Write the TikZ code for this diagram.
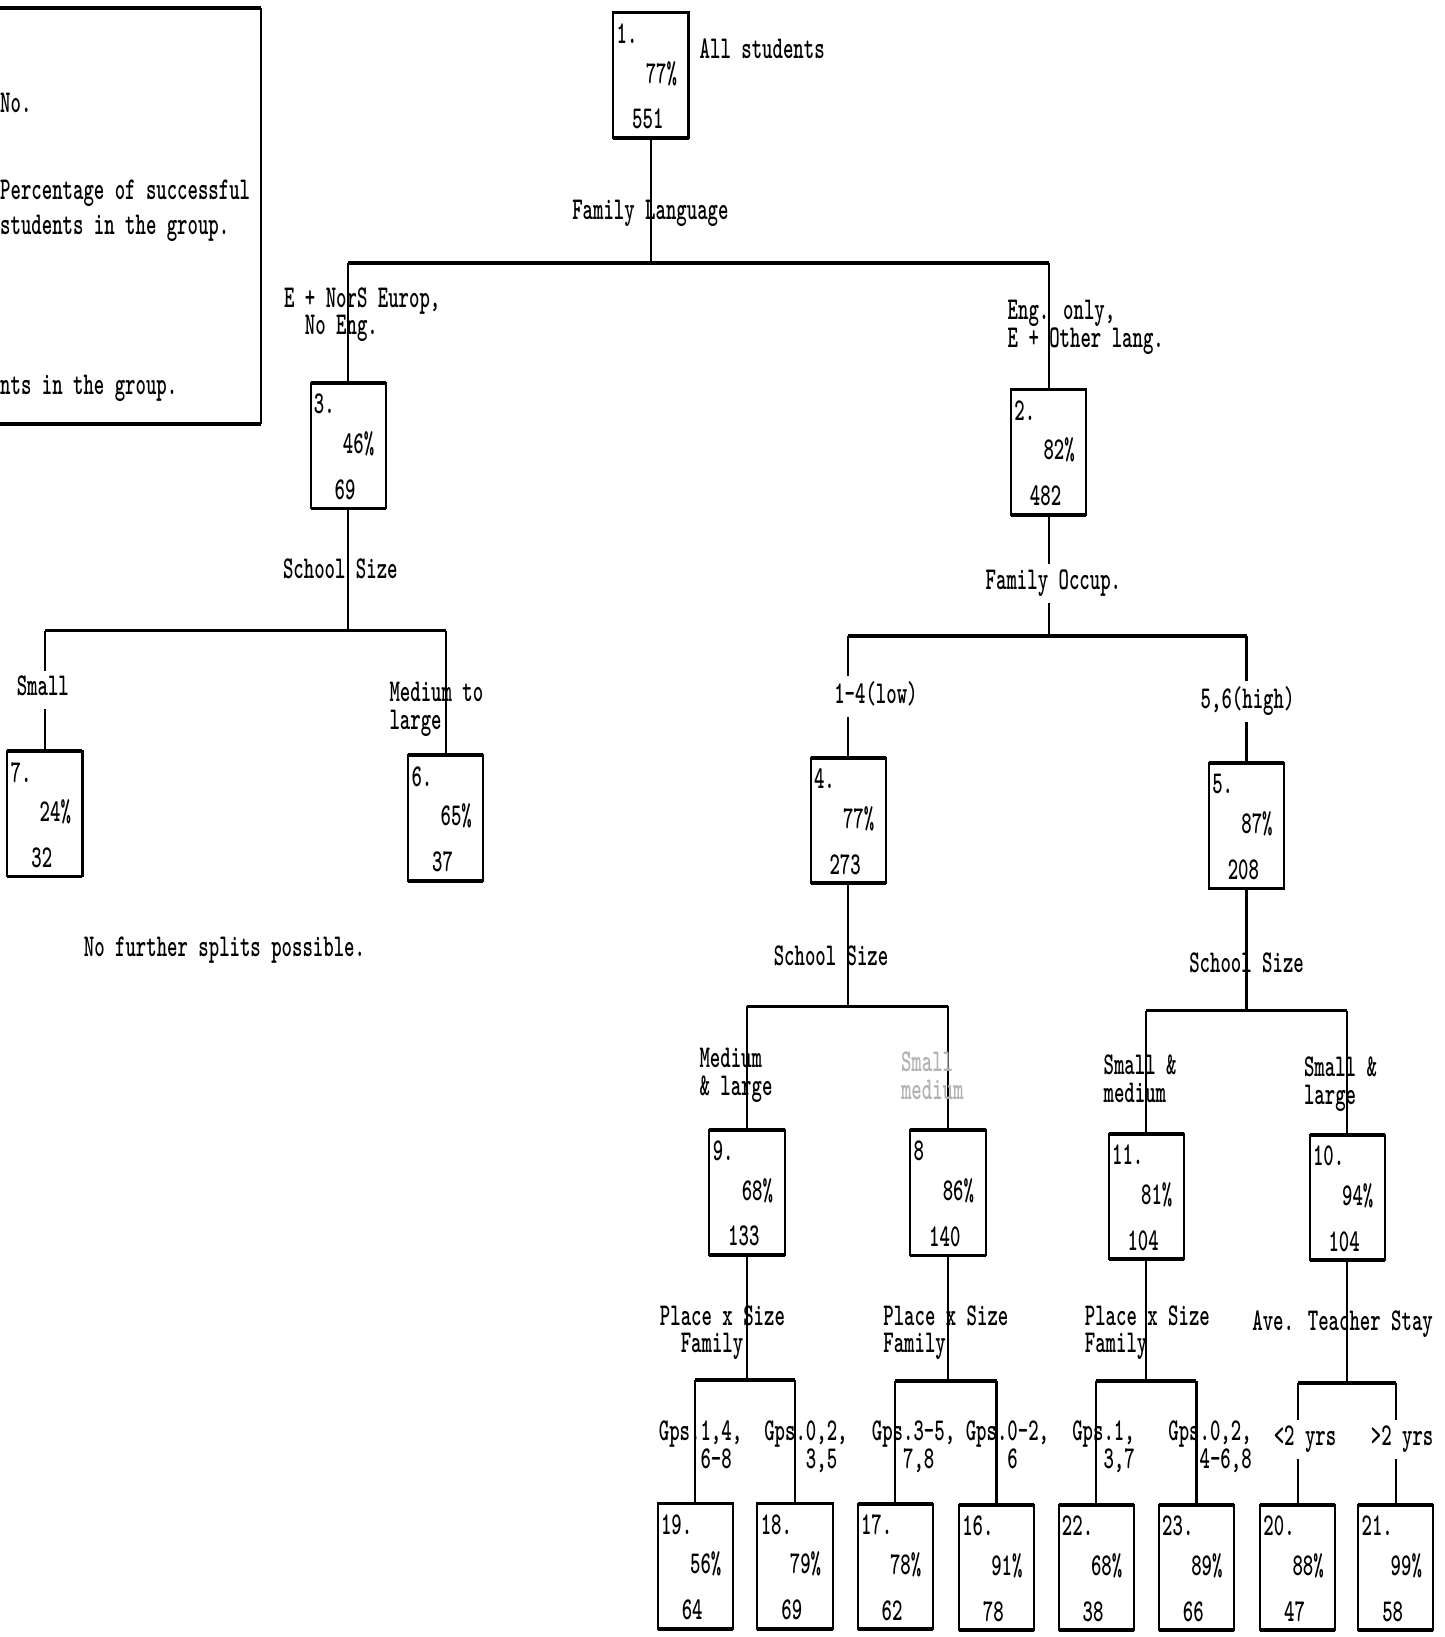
\documentclass[tikz,border=0pt]{standalone}
\usepackage{graphicx}
\usepackage{tikz}

\newcommand{\typefont}{\fontsize{19}{16}\selectfont\ttfamily\bfseries
  \setbox\strutbox\hbox{\vrule height 11pt depth 5pt width 0pt}}
\newcommand{\tall}[1]{\scalebox{1}[1.6]{\begin{tabular}{@{}l@{}}#1\end{tabular}}}

\tikzset{
  box/.style={draw=black, line width=2pt, minimum width=72pt, minimum height=120pt, inner sep=0pt, outer sep=0pt},
  lbl/.style={font=\typefont, inner sep=0pt, yshift=-4pt},
  gap/.style={fill=white, inner xsep=2pt, inner ysep=5pt},
  link/.style={draw=black, line width=2.2pt},
  bar/.style={draw=black, line width=3.6pt},
}

% group box: name, x, y, number, percentage, count
\newcommand{\groupbox}[6]{%
  \node[box] (#1) at (#2,#3) {};
  \path[bar] (#1.north west) -- (#1.north east);
  \path[bar] (#1.south west) -- (#1.south east);
  \node[lbl,anchor=west] (#1no) at ([shift={(3,20)}]#1.north west) {\tall{#4}};
  \node[lbl] (#1pc) at ([shift={(46,57)}]#1.north west) {\tall{#5}};
  \node[lbl] (#1n) at ([shift={(33,102)}]#1.north west) {\tall{#6}};
}

\begin{document}
\begin{tikzpicture}[x=1pt,y=-1pt]
\useasboundingbox (0,0) rectangle (1384,1568);
% legend:
\path[bar] (-5,8) -- (250,8);
\path[bar] (-5,406) -- (250,406);
\path[link] (250,8) -- (250,406);
\node[lbl,anchor=west] (keyno) at (0,98) {\tall{No.}};
\node[lbl,anchor=west] (keypc) at (0,182) {\tall{Percentage of successful}};
\node[lbl,anchor=west] (keygr) at (0,215) {\tall{students in the group.}};
\node[lbl,anchor=west] (keyn) at (0,369) {\tall{nts in the group.}};
% groups:
\groupbox{b1}{623.5}{72}{1.}{77\%}{551}
\groupbox{b3}{333.5}{427}{3.}{46\%}{69}
\groupbox{b2}{1004.5}{433}{2.}{82\%}{482}
\groupbox{b7}{43}{779.5}{7.}{24\%}{32}
\groupbox{b6}{427}{783.5}{6.}{65\%}{37}
\groupbox{b4}{812.5}{786}{4.}{77\%}{273}
\groupbox{b5}{1194}{791}{5.}{87\%}{208}
\groupbox{b9}{715.5}{1142}{9.}{68\%}{133}
\groupbox{b8}{908}{1142.5}{8}{86\%}{140}
\groupbox{b11}{1098}{1146}{11.}{81\%}{104}
\groupbox{b10}{1290.5}{1147}{10.}{94\%}{104}
\groupbox{b19}{666}{1500}{19.}{56\%}{64}
\groupbox{b18}{761.5}{1500}{18.}{79\%}{69}
\groupbox{b17}{857.5}{1500.5}{17.}{78\%}{62}
\groupbox{b16}{954.5}{1501.5}{16.}{91\%}{78}
\groupbox{b22}{1050}{1501.5}{22.}{68\%}{38}
\groupbox{b23}{1146}{1501.5}{23.}{89\%}{66}
\groupbox{b20}{1243}{1501.5}{20.}{88\%}{47}
\groupbox{b21}{1337}{1501.5}{21.}{99\%}{58}
% splits:
\coordinate (j1) at (623.5,252);
\coordinate (j3) at (333.5,604);
\coordinate (j2) at (1004.5,609);
\coordinate (j4) at (812.5,964);
\coordinate (j5) at (1194,968);
\coordinate (j9) at (715.5,1322);
\coordinate (j8) at (908,1323);
\coordinate (j11) at (1098,1323);
\coordinate (j10) at (1290.5,1325);
\path[link] (b1.south) -- (j1);
\path[bar] (b3 |- j1) -- (b2 |- j1);
\path[link] (b3 |- j1) -- (b3.north);
\path[link] (b2 |- j1) -- (b2.north);
\path[link] (b3.south) -- (j3);
\path[bar] (b7 |- j3) -- (b6 |- j3);
\path[link] (b7 |- j3) -- (b7.north);
\path[link] (b6 |- j3) -- (b6.north);
\path[link] (b2.south) -- (j2);
\path[bar] (b4 |- j2) -- (b5 |- j2);
\path[link] (b4 |- j2) -- (b4.north);
\path[link] (b5 |- j2) -- (b5.north);
\path[link] (b4.south) -- (j4);
\path[bar] (b9 |- j4) -- (b8 |- j4);
\path[link] (b9 |- j4) -- (b9.north);
\path[link] (b8 |- j4) -- (b8.north);
\path[link] (b5.south) -- (j5);
\path[bar] (b11 |- j5) -- (b10 |- j5);
\path[link] (b11 |- j5) -- (b11.north);
\path[link] (b10 |- j5) -- (b10.north);
\path[link] (b9.south) -- (j9);
\path[bar] (b19 |- j9) -- (b18 |- j9);
\path[link] (b19 |- j9) -- (b19.north);
\path[link] (b18 |- j9) -- (b18.north);
\path[link] (b8.south) -- (j8);
\path[bar] (b17 |- j8) -- (b16 |- j8);
\path[link] (b17 |- j8) -- (b17.north);
\path[link] (b16 |- j8) -- (b16.north);
\path[link] (b11.south) -- (j11);
\path[bar] (b22 |- j11) -- (b23 |- j11);
\path[link] (b22 |- j11) -- (b22.north);
\path[link] (b23 |- j11) -- (b23.north);
\path[link] (b10.south) -- (j10);
\path[bar] (b20 |- j10) -- (b21 |- j10);
\path[link] (b20 |- j10) -- (b20.north);
\path[link] (b21 |- j10) -- (b21.north);
% labels:
\node[lbl,anchor=west] (all) at (670,47) {\tall{All students}};
\node[lbl] (famlang) at (623,201) {\tall{Family Language}};
\node[lbl] (eur) at (347,298) {\tall{E + NorS Europ,\\\phantom{xx}No Eng.}};
\node[lbl] (eng) at (1040,310) {\tall{Eng. only,\\E + Other lang.}};
\node[lbl] (size3) at (326,545) {\tall{School Size}};
\node[lbl,gap] (small7) at (41,657) {\tall{Small}};
\node[lbl] (med6) at (418,676) {\tall{Medium to\\large}};
\node[lbl] (nomore) at (215,907) {\tall{No further splits possible.}};
\node[lbl,gap] (occup) at (1009,555) {\tall{Family Occup.}};
\node[lbl,gap] (low) at (839,663) {\tall{1-4(low)}};
\node[lbl,gap] (high) at (1195,668) {\tall{5,6(high)}};
\node[lbl] (size4) at (796,915) {\tall{School Size}};
\node[lbl] (size5) at (1194,922) {\tall{School Size}};
\node[lbl] (med9) at (705,1027) {\tall{Medium\\\& large}};
\node[lbl,text=black!30] (sm8) at (893,1030) {\tall{Small\\medium}};
\node[lbl] (sm11) at (1092,1033) {\tall{Small \&\\medium}};
\node[lbl] (sm10) at (1284,1035) {\tall{Small \&\\large}};
\node[lbl] (place9) at (692,1273) {\tall{Place x Size\\\phantom{xx}Family}};
\node[lbl] (place8) at (906,1273) {\tall{Place x Size\\Family}};
\node[lbl] (place11) at (1099,1273) {\tall{Place x Size\\Family}};
\node[lbl] (stay) at (1286,1265) {\tall{Ave. Teacher Stay}};
\node[lbl] (g19) at (671,1384) {\tall{Gps.1,4,\\\phantom{xxxx}6-8}};
\node[lbl] (g18) at (772,1384) {\tall{Gps.0,2,\\\phantom{xxxx}3,5}};
\node[lbl] (g17) at (875,1384) {\tall{Gps.3-5,\\\phantom{xxx}7,8}};
\node[lbl] (g16) at (965,1384) {\tall{Gps.0-2,\\\phantom{xxxx}6}};
\node[lbl] (g22) at (1057,1384) {\tall{Gps.1,\\\phantom{xxx}3,7}};
\node[lbl] (g23) at (1159,1384) {\tall{Gps.0,2,\\\phantom{xxx}4-6,8}};
\node[lbl,gap] (lt2) at (1250,1375) {\tall{<2 yrs}};
\node[lbl,gap] (gt2) at (1343,1375) {\tall{>2 yrs}};
\end{tikzpicture}
\end{document}
